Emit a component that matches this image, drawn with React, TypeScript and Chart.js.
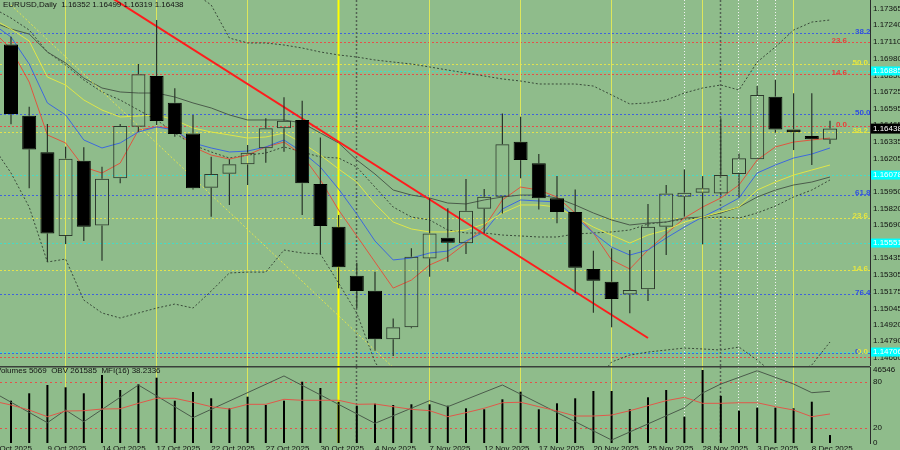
import React, { useEffect, useRef } from "react";
import { Chart, registerables } from "chart.js";
Chart.register(...registerables);

// ---------- data ----------
const candleDates = ["7 Oct 2025","8 Oct 2025","9 Oct 2025","10 Oct 2025","13 Oct 2025","14 Oct 2025","15 Oct 2025","16 Oct 2025","17 Oct 2025","20 Oct 2025","21 Oct 2025","22 Oct 2025","23 Oct 2025","24 Oct 2025","27 Oct 2025","28 Oct 2025","29 Oct 2025","30 Oct 2025","31 Oct 2025","3 Nov 2025","4 Nov 2025","5 Nov 2025","6 Nov 2025","7 Nov 2025","10 Nov 2025","11 Nov 2025","12 Nov 2025","13 Nov 2025","14 Nov 2025","17 Nov 2025","18 Nov 2025","19 Nov 2025","20 Nov 2025","21 Nov 2025","24 Nov 2025","25 Nov 2025","26 Nov 2025","27 Nov 2025","28 Nov 2025","1 Dec 2025","2 Dec 2025","3 Dec 2025","4 Dec 2025","5 Dec 2025","8 Dec 2025","9 Dec 2025"];

const open = [1.17091,1.16538,1.16254,1.15605,1.16189,1.15688,1.16053,1.16453,1.16846,1.16639,1.16401,1.15980,1.16088,1.16161,1.16285,1.16440,1.16505,1.16008,1.15677,1.15298,1.15181,1.14805,1.14898,1.15432,1.15592,1.15549,1.15817,1.15910,1.16336,1.16169,1.15898,1.15791,1.15350,1.15251,1.15153,1.15192,1.15677,1.15910,1.15941,1.15936,1.16086,1.16200,1.16685,1.16432,1.16381,1.16352];
const high = [1.17150,1.16608,1.16474,1.16298,1.16293,1.16143,1.16474,1.16939,1.17280,1.16750,1.16543,1.16220,1.16200,1.16311,1.16518,1.16681,1.16654,1.16370,1.15768,1.15398,1.15329,1.14967,1.15510,1.15898,1.15820,1.16047,1.15970,1.16556,1.16530,1.16241,1.16070,1.15967,1.15491,1.15510,1.15497,1.15853,1.16001,1.16122,1.16070,1.16518,1.16246,1.16768,1.16815,1.16712,1.16712,1.16499];
const low = [1.16471,1.15975,1.15406,1.15543,1.15567,1.15414,1.16014,1.16414,1.16466,1.16375,1.15967,1.15755,1.15846,1.16001,1.16174,1.16259,1.15768,1.15466,1.15200,1.15045,1.14716,1.14675,1.14890,1.15290,1.15406,1.15466,1.15626,1.15781,1.16053,1.15812,1.15704,1.15161,1.15011,1.14898,1.15006,1.15101,1.15458,1.15755,1.15541,1.15923,1.15905,1.16200,1.16406,1.16272,1.16156,1.16319];
const close = [1.16551,1.16277,1.15626,1.16205,1.15677,1.16050,1.16458,1.16859,1.16497,1.16396,1.15975,1.16086,1.16161,1.16251,1.16440,1.16499,1.16014,1.15683,1.15363,1.15179,1.14805,1.14898,1.15445,1.15626,1.15553,1.15801,1.15910,1.16316,1.16194,1.15898,1.15791,1.15360,1.15259,1.15117,1.15187,1.15677,1.15936,1.15941,1.15975,1.16078,1.16208,1.16698,1.16432,1.16409,1.16355,1.16438];
const volume = [26970,31690,36980,35510,31690,43360,33790,37430,41640,26970,32520,28500,22120,29520,24230,26970,39080,35070,26330,23780,25060,24230,24680,24680,23780,22120,21490,27860,32710,21490,25310,28500,33160,33160,21490,29140,33790,16770,46546,29970,20590,22510,22510,22120,26330,5069];

// indicator lines: first entry is the bar before the first candle (6 Oct)
const maRed = [1.17195,1.17055,1.16799,1.16389,1.16327,1.16140,1.16094,1.16171,1.16427,1.16451,1.16443,1.16296,1.16233,1.16202,1.16233,1.16296,1.16334,1.16233,1.16040,1.15807,1.15606,1.15404,1.15202,1.15264,1.15381,1.15443,1.15551,1.15675,1.15885,1.15985,1.15962,1.15908,1.15784,1.15629,1.15420,1.15350,1.15497,1.15621,1.15745,1.15830,1.15900,1.16001,1.16195,1.16296,1.16334,1.16350,1.16365];
const maBlue = [1.17249,1.17148,1.16939,1.16637,1.16544,1.16350,1.16288,1.16327,1.16412,1.16451,1.16427,1.16327,1.16288,1.16257,1.16264,1.16296,1.16350,1.16257,1.16140,1.15970,1.15776,1.15567,1.15420,1.15435,1.15474,1.15489,1.15567,1.15637,1.15815,1.15885,1.15877,1.15869,1.15753,1.15629,1.15520,1.15458,1.15497,1.15590,1.15675,1.15753,1.15823,1.15900,1.16094,1.16156,1.16210,1.16241,1.16288];
const maYellow = [1.17288,1.17210,1.17117,1.16838,1.16776,1.16660,1.16582,1.16528,1.16536,1.16544,1.16505,1.16443,1.16412,1.16389,1.16365,1.16373,1.16404,1.16327,1.16233,1.16125,1.16024,1.15854,1.15714,1.15660,1.15637,1.15637,1.15652,1.15699,1.15784,1.15846,1.15846,1.15830,1.15753,1.15675,1.15613,1.15551,1.15613,1.15652,1.15714,1.15753,1.15792,1.15830,1.15962,1.16024,1.16078,1.16117,1.16156];
const maGray = [1.17264,1.17210,1.17171,1.17032,1.16947,1.16830,1.16753,1.16722,1.16714,1.16714,1.16683,1.16637,1.16598,1.16544,1.16505,1.16505,1.16505,1.16482,1.16404,1.16327,1.16195,1.16086,1.15962,1.15923,1.15900,1.15861,1.15854,1.15885,1.15908,1.15923,1.15923,1.15900,1.15846,1.15784,1.15730,1.15691,1.15706,1.15714,1.15745,1.15753,1.15784,1.15830,1.15908,1.15962,1.16001,1.16024,1.16063];
const bbUpper = [1.18133,1.18055,1.17978,1.17900,1.17861,1.17823,1.17784,1.17745,1.17706,1.17629,1.17575,1.17497,1.17396,1.17140,1.17102,1.17102,1.17086,1.17063,1.17032,1.17009,1.16993,1.16970,1.16954,1.16939,1.16916,1.16892,1.16869,1.16846,1.16823,1.16807,1.16784,1.16784,1.16784,1.16768,1.16699,1.16629,1.16637,1.16660,1.16714,1.16753,1.16776,1.16737,1.16954,1.17071,1.17202,1.17264,1.17280];
const bbMid = [1.17373,1.17295,1.17202,1.17032,1.16931,1.16815,1.16722,1.16660,1.16582,1.16505,1.16404,1.16311,1.16257,1.16210,1.16233,1.16249,1.16296,1.16257,1.16218,1.16210,1.16140,1.15985,1.15830,1.15753,1.15730,1.15652,1.15629,1.15629,1.15613,1.15606,1.15598,1.15598,1.15621,1.15629,1.15637,1.15652,1.15699,1.15714,1.15737,1.15745,1.15753,1.15745,1.15784,1.15838,1.15908,1.15962,1.16040];
const bbLower = [1.16303,1.16094,1.15830,1.15404,1.15427,1.15109,1.15009,1.14970,1.15009,1.15047,1.15078,1.15047,1.15179,1.15319,1.15326,1.15326,1.15497,1.15474,1.15466,1.15241,1.15009,1.14629,1.14412,1.14334,1.14295,1.14257,1.14241,1.14241,1.14257,1.14272,1.14295,1.14334,1.14373,1.14451,1.14629,1.14683,1.14706,1.14722,1.14737,1.14730,1.14722,1.14745,1.14644,1.14528,1.14528,1.14606,1.14784];
const mfi = [55.3,50.0,43.4,34.6,42.1,42.5,44.7,45.1,52.2,58.8,58.8,53.6,47.8,44.7,50.9,50.9,57.5,56.2,56.2,56.2,50.9,51.3,47.8,44.3,42.5,34.6,39.9,45.7,53.0,53.6,47.8,42.1,35.5,35.5,36.8,42.5,49.1,55.7,60.1,52.2,52.2,53.0,53.0,47.8,43.4,34.6,38.2];
// OBV line, scaled to the sub-window (0-100), turning points only
const obvIdx = [-1,2,3,4,7,10,15,20,23,24,27,33,37,38,39,41,43,44,45];
const obvVal = [67.2,26.7,43.4,28.0,76.3,33.3,88.2,25.9,55.7,47.8,76.3,3.9,46.4,65.8,77.6,95.1,77.6,66.2,68.0];
const obvLast = 261585;
const mfiLast = 38.2336;

// trend lines (bar index, price)
const redTrendIdx = [4, 35];
const redTrendPrice = [1.17589, 1.14815];
const yellowTrendIdx = [0, 21];
const yellowTrendPrice = [1.17396, 1.14586];

// horizontal levels
const fibBlue = [1.17179, 1.16551, 1.15927, 1.15156, 1.14699];
const fibBlueLabels = ["38.2", "50.0", "61.8", "76.4", "0"];
const fibYellow = [1.16939, 1.16408, 1.15749, 1.15342, 1.14699];
const fibYellowLabels = ["50.0", "38.2", "23.6", "14.6", "0.0"];
const fibRed = [1.17106, 1.16858, 1.16458, 1.14668];
const fibRedLabels = ["23.6", "14.6", "0.0", ""];
const cyanLevels = [1.16885, 1.16078, 1.15551, 1.14706];

// axis ticks
const priceTicks = [1.17365,1.17240,1.17110,1.16980,1.16850,1.16725,1.16595,1.16465,1.16335,1.16205,1.16075,1.15950,1.15820,1.15690,1.15560,1.15435,1.15305,1.15175,1.15045,1.14920,1.14790,1.14660];
const dateTickIdx = [-1,2,5,8,11,14,17,20,23,26,29,32,35,38,41,44];
const dateTickLabels = ["6 Oct 2025","9 Oct 2025","14 Oct 2025","17 Oct 2025","22 Oct 2025","27 Oct 2025","30 Oct 2025","4 Nov 2025","7 Nov 2025","12 Nov 2025","17 Nov 2025","20 Nov 2025","25 Nov 2025","28 Nov 2025","3 Dec 2025","8 Dec 2025"];
const mfiTicks = [0, 20, 80];
const mfiLevels = [80, 20];

// vertical separators (bar index)
const weekLineIdx = [3, 8, 13, 23, 28, 33, 38, 43];
const monthEndIdx = [18];
const monthStartIdx = [19, 39];
const whiteDotIdx = [37, 40, 41, 42];

// ---------- layout constants ----------
const X_MIN = -0.6044, X_MAX = 47.198;
const Y_MIN = 1.14598, Y_MAX = 1.17435;
const VOL_AXIS_MAX = 48460;
const BG = "#8fbc8b";
const FONT = "Liberation Sans";

const pts = (arr: number[]) => arr.map((v, k) => ({ x: k - 1, y: v }));

function drawVerticals(ctx: CanvasRenderingContext2D, xs: any, top: number, bottom: number) {
  const line = (i: number, color: string, w: number, dash: number[]) => {
    const x = Math.floor(xs.getPixelForValue(i)) + 0.5;
    ctx.strokeStyle = color; ctx.lineWidth = w; ctx.setLineDash(dash);
    ctx.beginPath(); ctx.moveTo(x, top); ctx.lineTo(x, bottom); ctx.stroke();
  };
  weekLineIdx.forEach(i => line(i, "#dde65c", 1, []));
  monthEndIdx.forEach(i => line(i, "#ffff00", 2, []));
  monthStartIdx.forEach(i => line(i, "#536353", 1.5, [2, 2]));
  whiteDotIdx.forEach(i => line(i, "#f2f2f2", 1, [1, 2]));
  ctx.setLineDash([]);
}

const mainPlugin = {
  id: "mainDecor",
  beforeDatasetsDraw(chart: any) {
    const { ctx, chartArea: a, scales } = chart;
    const ys = scales.y;
    ctx.save();
    ctx.beginPath(); ctx.rect(a.left, a.top, a.right - a.left, a.bottom - a.top); ctx.clip();
    const hline = (p: number, color: string) => {
      const y = Math.round(ys.getPixelForValue(p)) + 0.5;
      ctx.strokeStyle = color; ctx.lineWidth = 1; ctx.setLineDash([2, 2]);
      ctx.beginPath(); ctx.moveTo(a.left, y); ctx.lineTo(a.right, y); ctx.stroke();
    };
    cyanLevels.forEach(p => hline(p, "#43dcc8"));
    fibYellow.forEach(p => hline(p, "#e2e24e"));
    fibRed.forEach(p => hline(p, "#e5504a"));
    fibBlue.forEach(p => hline(p, "#3f62dc"));
    drawVerticals(ctx, scales.x, a.top, a.bottom);
    ctx.restore();
  },
  afterDraw(chart: any) {
    const { ctx, scales, chartArea: a } = chart;
    const ys = scales.y;
    ctx.save();
    ctx.font = `bold 8px "${FONT}"`;
    ctx.textBaseline = "middle";
    ctx.textAlign = "left";
    ctx.fillStyle = "#3050e0";
    fibBlue.forEach((p, k) => ctx.fillText(fibBlueLabels[k], 855, ys.getPixelForValue(p) - 1.5));
    ctx.textAlign = "right";
    ctx.fillStyle = "#e6e640";
    fibYellow.forEach((p, k) => ctx.fillText(fibYellowLabels[k], 868, ys.getPixelForValue(p) - 1.5));
    ctx.fillStyle = "#e8403a";
    fibRed.forEach((p, k) => fibRedLabels[k] && ctx.fillText(fibRedLabels[k], 847, ys.getPixelForValue(p) - 1.5));
    // axis price boxes
    ctx.font = `8px "${FONT}"`;
    ctx.textAlign = "left";
    cyanLevels.forEach(p => {
      const y = ys.getPixelForValue(p);
      ctx.fillStyle = "#00ffff"; ctx.fillRect(a.right + 1, y - 4.5, 29, 9);
      ctx.fillStyle = "#ffffff"; ctx.fillText(p.toFixed(5), a.right + 3, y);
    });
    const last = close[close.length - 1];
    const yl = ys.getPixelForValue(last);
    ctx.fillStyle = "#000000"; ctx.fillRect(a.right + 1, yl - 5, 29, 10);
    ctx.fillStyle = "#ffffff"; ctx.fillText(last.toFixed(5), a.right + 3, yl);
    // title
    const n = open.length - 1;
    ctx.fillStyle = "#141414";
    ctx.fillText(`EURUSD,Daily  ${open[n].toFixed(5)} ${high[n].toFixed(5)} ${low[n].toFixed(5)} ${close[n].toFixed(5)}`, 3, 5);
    ctx.restore();
  },
};

const subPlugin = {
  id: "subDecor",
  beforeDatasetsDraw(chart: any) {
    const { ctx, chartArea: a, scales } = chart;
    ctx.save();
    ctx.beginPath(); ctx.rect(a.left, a.top, a.right - a.left, a.bottom - a.top); ctx.clip();
    mfiLevels.forEach(v => {
      const y = Math.round(scales.ym.getPixelForValue(v)) + 0.5;
      ctx.strokeStyle = "#e5504a"; ctx.lineWidth = 1; ctx.setLineDash([2, 3]);
      ctx.beginPath(); ctx.moveTo(a.left, y); ctx.lineTo(a.right, y); ctx.stroke();
    });
    drawVerticals(ctx, scales.x, a.top, a.bottom);
    ctx.restore();
  },
  afterDraw(chart: any) {
    const { ctx, chartArea: a } = chart;
    ctx.save();
    ctx.fillStyle = "#3a3f3a";
    ctx.fillRect(0, 0, a.right, 1.5);
    ctx.font = `8px "${FONT}"`;
    ctx.textBaseline = "middle";
    ctx.fillStyle = "#141414";
    ctx.fillText(`Volumes ${volume[volume.length - 1]}  OBV ${obvLast}  MFI(16) ${mfiLast}`, -4, 5);
    ctx.restore();
  },
};

export default function App() {
  const r1 = useRef<HTMLCanvasElement>(null);
  const r2 = useRef<HTMLCanvasElement>(null);

  useEffect(() => {
    const bull = close.map((c, i) => c >= open[i]);
    const bodies = open.map((o, i) => ({ x: i, y: [Math.min(o, close[i]), Math.max(o, close[i])] }));
    const upWick = open.map((o, i) => ({ x: i, y: [Math.max(o, close[i]), high[i]] }));
    const loWick = open.map((o, i) => ({ x: i, y: [low[i], Math.min(o, close[i])] }));
    const lineDs = (data: any, color: string, order: number, extra: any = {}) => ({
      type: "line", data, borderColor: color, borderWidth: 1, pointRadius: 0, tension: 0, fill: false, order, ...extra,
    });
    const tickFont = { family: FONT, size: 8 };
    const common = {
      responsive: false, animation: false, devicePixelRatio: 1, events: [],
      plugins: { legend: { display: false }, tooltip: { enabled: false } },
    };

    const c1 = new Chart(r1.current!, {
      type: "line",
      data: {
        datasets: [
          lineDs(pts(bbUpper), "#3a4a3a", 6, { borderDash: [2, 2] }),
          lineDs(pts(bbMid), "#3a4a3a", 6, { borderDash: [2, 2] }),
          lineDs(pts(bbLower), "#3a4a3a", 6, { borderDash: [2, 2] }),
          lineDs(pts(maGray), "#4b5b4b", 5),
          lineDs(pts(maYellow), "#dfe548", 4),
          lineDs(pts(maBlue), "#3d68de", 4),
          lineDs(pts(maRed), "#e0553f", 4),
          lineDs(yellowTrendIdx.map((x, k) => ({ x, y: yellowTrendPrice[k] })), "#e4e44c", 3, { borderDash: [2, 2] }),
          lineDs(redTrendIdx.map((x, k) => ({ x, y: redTrendPrice[k] })), "#ff1c1c", 3, { borderWidth: 2 }),
          { type: "bar", data: upWick, backgroundColor: "#2a362a", borderWidth: 0, barThickness: 1.2, grouped: false, inflateAmount: 0, order: 1 },
          { type: "bar", data: loWick, backgroundColor: "#2a362a", borderWidth: 0, barThickness: 1.2, grouped: false, inflateAmount: 0, order: 1 },
          {
            type: "bar", data: bodies,
            backgroundColor: bull.map(b => (b ? "rgba(0,0,0,0)" : "#000000")),
            borderColor: bull.map(b => (b ? "#2e3b2e" : "#000000")),
            borderWidth: 1, borderSkipped: false, barThickness: 14, grouped: false, inflateAmount: 0, order: 0,
          },
        ] as any,
      },
      options: {
        ...common,
        layout: { padding: 0 },
        scales: {
          x: { type: "linear", min: X_MIN, max: X_MAX, display: false, offset: false },
          y: {
            type: "linear", position: "right", min: Y_MIN, max: Y_MAX,
            afterBuildTicks: (s: any) => { s.ticks = priceTicks.map(value => ({ value })); },
            afterFit: (s: any) => { s.width = 30; s.paddingTop = 0; s.paddingBottom = 0; },
            ticks: { callback: (v: any) => Number(v).toFixed(5), font: tickFont, color: "#111111", padding: 3, autoSkip: false },
            grid: { display: false, drawTicks: false },
            border: { display: true, color: "#2b2b2b", width: 1 },
          },
        },
      } as any,
      plugins: [mainPlugin],
    });

    const volTick = (volume.reduce((m, v) => Math.max(m, v), 0) / VOL_AXIS_MAX) * 100;
    const c2 = new Chart(r2.current!, {
      type: "line",
      data: {
        datasets: [
          lineDs(obvIdx.map((x, k) => ({ x, y: obvVal[k] })), "#4b5b4b", 2, { yAxisID: "ym" }),
          lineDs(pts(mfi), "#e0584a", 1, { yAxisID: "ym" }),
          { type: "bar", data: volume.map((v, i) => ({ x: i, y: v })), yAxisID: "yv", backgroundColor: "#000000", borderWidth: 0, barThickness: 2, grouped: false, inflateAmount: 0, order: 3 },
        ] as any,
      },
      options: {
        ...common,
        layout: { padding: { top: 1, left: 0, right: 0, bottom: 0 } },
        scales: {
          x: {
            type: "linear", min: X_MIN, max: X_MAX, position: "bottom", offset: false,
            afterBuildTicks: (s: any) => { s.ticks = dateTickIdx.map(value => ({ value })); },
            afterFit: (s: any) => { s.height = 7; s.paddingLeft = 0; s.paddingRight = 0; },
            ticks: { align: "start", maxRotation: 0, minRotation: 0, autoSkip: false, padding: 1, font: tickFont, color: "#111111",
              callback: (_v: any, idx: number) => dateTickLabels[idx] },
            grid: { display: false, drawTicks: false },
            border: { display: false },
          },
          yv: { type: "linear", display: false, min: 0, max: VOL_AXIS_MAX },
          ym: {
            type: "linear", position: "right", min: 0, max: 100,
            afterBuildTicks: (s: any) => { s.ticks = [...mfiTicks, volTick].map(value => ({ value })); },
            afterFit: (s: any) => { s.width = 30; s.paddingTop = 0; s.paddingBottom = 0; },
            ticks: {
              callback: (v: any) => (Math.abs(v - volTick) < 0.01 ? String(Math.max(...volume)) : String(v)),
              font: tickFont, color: "#111111", padding: 3, autoSkip: false,
            },
            grid: { display: false, drawTicks: false },
            border: { display: true, color: "#2b2b2b", width: 1 },
          },
        },
      } as any,
      plugins: [subPlugin],
    });

    return () => { c1.destroy(); c2.destroy(); };
  }, []);

  return (
    <div style={{ position: "fixed", left: 0, top: 0, width: 900, height: 450, background: BG, overflow: "hidden" }}>
      <canvas ref={r1} width={900} height={366} style={{ position: "absolute", left: 0, top: 0, width: 900, height: 366 }} />
      <canvas ref={r2} width={900} height={84} style={{ position: "absolute", left: 0, top: 366, width: 900, height: 84 }} />
    </div>
  );
}
